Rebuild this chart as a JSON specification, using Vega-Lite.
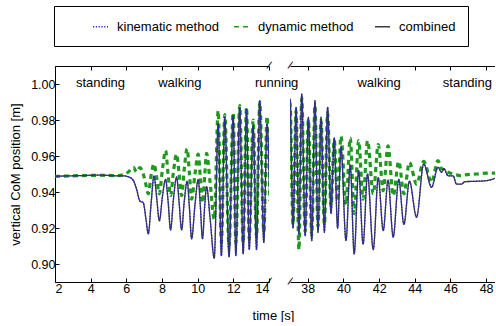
{
  "$schema": "https://vega.github.io/schema/vega-lite/v6.json",
  "padding": {"left": 9, "top": 5, "right": 0, "bottom": 0},
  "config": {
    "view": {"stroke": null},
    "font": "Liberation Sans",
    "axis": {"labelFont": "Liberation Sans", "titleFont": "Liberation Sans", "labelFontSize": 12.5, "titleFontSize": 13, "titleFontWeight": "normal", "labelColor": "#000", "titleColor": "#000", "domainColor": "#000", "tickColor": "#000", "grid": false, "tickSize": -4, "labelPadding": 8},
    "text": {"font": "Liberation Sans", "fontSize": 13, "color": "#000"}
  },
  "datasets": {
    "left": [
      {"t": 2.0, "kinematic method": 0.9487, "dynamic method": 0.9487, "combined": 0.9487},
      {"t": 2.5, "kinematic method": 0.9489, "dynamic method": 0.9488, "combined": 0.9489},
      {"t": 3.0, "kinematic method": 0.9490, "dynamic method": 0.9490, "combined": 0.9490},
      {"t": 3.5, "kinematic method": 0.9491, "dynamic method": 0.9491, "combined": 0.9491},
      {"t": 4.0, "kinematic method": 0.9493, "dynamic method": 0.9492, "combined": 0.9493},
      {"t": 4.5, "kinematic method": 0.9494, "dynamic method": 0.9493, "combined": 0.9494},
      {"t": 5.0, "kinematic method": 0.9492, "dynamic method": 0.9492, "combined": 0.9492},
      {"t": 5.5, "kinematic method": 0.9490, "dynamic method": 0.9491, "combined": 0.9490},
      {"t": 5.8, "kinematic method": 0.9490, "dynamic method": 0.9496, "combined": 0.9490},
      {"t": 6.1, "kinematic method": 0.9485, "dynamic method": 0.9510, "combined": 0.9485},
      {"t": 6.4, "kinematic method": 0.9463, "dynamic method": 0.9537, "combined": 0.9463},
      {"t": 6.57, "kinematic method": 0.9417, "dynamic method": 0.9512, "combined": 0.9417},
      {"t": 6.76, "kinematic method": 0.9350, "dynamic method": 0.9535, "combined": 0.9350},
      {"t": 6.95, "kinematic method": 0.9340, "dynamic method": 0.9500, "combined": 0.9340},
      {"t": 7.10, "kinematic method": 0.9250, "dynamic method": 0.9440, "combined": 0.9250},
      {"t": 7.23, "kinematic method": 0.9167, "dynamic method": 0.9390, "combined": 0.9167},
      {"t": 7.40, "kinematic method": 0.9350, "dynamic method": 0.9500, "combined": 0.9350},
      {"t": 7.55, "kinematic method": 0.9490, "dynamic method": 0.9556, "combined": 0.9490},
      {"t": 7.70, "kinematic method": 0.9370, "dynamic method": 0.9480, "combined": 0.9370},
      {"t": 7.85, "kinematic method": 0.9240, "dynamic method": 0.9390, "combined": 0.9240},
      {"t": 8.03, "kinematic method": 0.9380, "dynamic method": 0.9530, "combined": 0.9380},
      {"t": 8.20, "kinematic method": 0.9470, "dynamic method": 0.9630, "combined": 0.9470},
      {"t": 8.34, "kinematic method": 0.9350, "dynamic method": 0.9500, "combined": 0.9350},
      {"t": 8.48, "kinematic method": 0.9190, "dynamic method": 0.9380, "combined": 0.9190},
      {"t": 8.65, "kinematic method": 0.9370, "dynamic method": 0.9520, "combined": 0.9370},
      {"t": 8.82, "kinematic method": 0.9483, "dynamic method": 0.9610, "combined": 0.9483},
      {"t": 8.96, "kinematic method": 0.9340, "dynamic method": 0.9500, "combined": 0.9340},
      {"t": 9.10, "kinematic method": 0.9190, "dynamic method": 0.9380, "combined": 0.9190},
      {"t": 9.25, "kinematic method": 0.9350, "dynamic method": 0.9530, "combined": 0.9350},
      {"t": 9.41, "kinematic method": 0.9460, "dynamic method": 0.9640, "combined": 0.9460},
      {"t": 9.54, "kinematic method": 0.9310, "dynamic method": 0.9500, "combined": 0.9310},
      {"t": 9.66, "kinematic method": 0.9140, "dynamic method": 0.9360, "combined": 0.9140},
      {"t": 9.85, "kinematic method": 0.9330, "dynamic method": 0.9500, "combined": 0.9330},
      {"t": 10.03, "kinematic method": 0.9470, "dynamic method": 0.9610, "combined": 0.9470},
      {"t": 10.15, "kinematic method": 0.9320, "dynamic method": 0.9480, "combined": 0.9320},
      {"t": 10.27, "kinematic method": 0.9140, "dynamic method": 0.9340, "combined": 0.9140},
      {"t": 10.40, "kinematic method": 0.9330, "dynamic method": 0.9500, "combined": 0.9330},
      {"t": 10.50, "kinematic method": 0.9430, "dynamic method": 0.9615, "combined": 0.9430},
      {"t": 10.70, "kinematic method": 0.9250, "dynamic method": 0.9450, "combined": 0.9250},
      {"t": 10.93, "kinematic method": 0.9033, "dynamic method": 0.9250, "combined": 0.9033},
      {"t": 11.15, "kinematic method": 0.9780, "dynamic method": 0.9850, "combined": 0.9780},
      {"t": 11.33, "kinematic method": 0.9046, "dynamic method": 0.9120, "combined": 0.9046},
      {"t": 11.52, "kinematic method": 0.9815, "dynamic method": 0.9830, "combined": 0.9815},
      {"t": 11.76, "kinematic method": 0.9040, "dynamic method": 0.9100, "combined": 0.9040},
      {"t": 11.99, "kinematic method": 0.9824, "dynamic method": 0.9840, "combined": 0.9824},
      {"t": 12.14, "kinematic method": 0.9046, "dynamic method": 0.9120, "combined": 0.9046},
      {"t": 12.36, "kinematic method": 0.9870, "dynamic method": 0.9880, "combined": 0.9870},
      {"t": 12.55, "kinematic method": 0.9056, "dynamic method": 0.9120, "combined": 0.9056},
      {"t": 12.74, "kinematic method": 0.9860, "dynamic method": 0.9870, "combined": 0.9860},
      {"t": 12.89, "kinematic method": 0.9080, "dynamic method": 0.9140, "combined": 0.9080},
      {"t": 13.11, "kinematic method": 0.9770, "dynamic method": 0.9800, "combined": 0.9770},
      {"t": 13.30, "kinematic method": 0.9080, "dynamic method": 0.9150, "combined": 0.9080},
      {"t": 13.48, "kinematic method": 0.9907, "dynamic method": 0.9900, "combined": 0.9907},
      {"t": 13.71, "kinematic method": 0.9120, "dynamic method": 0.9180, "combined": 0.9120},
      {"t": 13.89, "kinematic method": 0.9780, "dynamic method": 0.9820, "combined": 0.9780},
      {"t": 14.05, "kinematic method": 0.9300, "dynamic method": 0.9350, "combined": 0.9300}
    ],
    "right": [
      {"t": 36.90, "kinematic method": 0.9300, "dynamic method": 0.9300, "combined": 0.9300},
      {"t": 37.00, "kinematic method": 0.9917, "dynamic method": 0.9900, "combined": 0.9917},
      {"t": 37.17, "kinematic method": 0.9200, "dynamic method": 0.9220, "combined": 0.9200},
      {"t": 37.34, "kinematic method": 0.9870, "dynamic method": 0.9850, "combined": 0.9870},
      {"t": 37.50, "kinematic method": 0.9167, "dynamic method": 0.9080, "combined": 0.9167},
      {"t": 37.66, "kinematic method": 0.9944, "dynamic method": 0.9920, "combined": 0.9944},
      {"t": 37.85, "kinematic method": 0.9157, "dynamic method": 0.9180, "combined": 0.9157},
      {"t": 38.03, "kinematic method": 0.9815, "dynamic method": 0.9800, "combined": 0.9815},
      {"t": 38.22, "kinematic method": 0.9130, "dynamic method": 0.9160, "combined": 0.9130},
      {"t": 38.40, "kinematic method": 0.9907, "dynamic method": 0.9880, "combined": 0.9907},
      {"t": 38.57, "kinematic method": 0.9176, "dynamic method": 0.9210, "combined": 0.9176},
      {"t": 38.74, "kinematic method": 0.9815, "dynamic method": 0.9800, "combined": 0.9815},
      {"t": 38.93, "kinematic method": 0.9176, "dynamic method": 0.9220, "combined": 0.9176},
      {"t": 39.11, "kinematic method": 0.9870, "dynamic method": 0.9840, "combined": 0.9870},
      {"t": 39.30, "kinematic method": 0.9280, "dynamic method": 0.9320, "combined": 0.9280},
      {"t": 39.48, "kinematic method": 0.9700, "dynamic method": 0.9690, "combined": 0.9700},
      {"t": 39.67, "kinematic method": 0.9200, "dynamic method": 0.9350, "combined": 0.9200},
      {"t": 39.86, "kinematic method": 0.9650, "dynamic method": 0.9710, "combined": 0.9650},
      {"t": 40.14, "kinematic method": 0.9130, "dynamic method": 0.9330, "combined": 0.9130},
      {"t": 40.38, "kinematic method": 0.9550, "dynamic method": 0.9700, "combined": 0.9550},
      {"t": 40.60, "kinematic method": 0.9056, "dynamic method": 0.9280, "combined": 0.9056},
      {"t": 40.85, "kinematic method": 0.9520, "dynamic method": 0.9685, "combined": 0.9520},
      {"t": 41.10, "kinematic method": 0.9110, "dynamic method": 0.9360, "combined": 0.9110},
      {"t": 41.35, "kinematic method": 0.9500, "dynamic method": 0.9685, "combined": 0.9500},
      {"t": 41.67, "kinematic method": 0.9080, "dynamic method": 0.9390, "combined": 0.9080},
      {"t": 41.95, "kinematic method": 0.9480, "dynamic method": 0.9663, "combined": 0.9480},
      {"t": 42.23, "kinematic method": 0.9185, "dynamic method": 0.9407, "combined": 0.9185},
      {"t": 42.50, "kinematic method": 0.9465, "dynamic method": 0.9657, "combined": 0.9465},
      {"t": 42.79, "kinematic method": 0.9150, "dynamic method": 0.9380, "combined": 0.9150},
      {"t": 43.10, "kinematic method": 0.9470, "dynamic method": 0.9570, "combined": 0.9470},
      {"t": 43.39, "kinematic method": 0.9220, "dynamic method": 0.9390, "combined": 0.9220},
      {"t": 43.70, "kinematic method": 0.9460, "dynamic method": 0.9565, "combined": 0.9460},
      {"t": 44.10, "kinematic method": 0.9260, "dynamic method": 0.9444, "combined": 0.9260},
      {"t": 44.50, "kinematic method": 0.9556, "dynamic method": 0.9570, "combined": 0.9556},
      {"t": 44.94, "kinematic method": 0.9426, "dynamic method": 0.9454, "combined": 0.9426},
      {"t": 45.30, "kinematic method": 0.9537, "dynamic method": 0.9574, "combined": 0.9537},
      {"t": 45.50, "kinematic method": 0.9510, "dynamic method": 0.9530, "combined": 0.9510},
      {"t": 45.63, "kinematic method": 0.9530, "dynamic method": 0.9525, "combined": 0.9530},
      {"t": 45.87, "kinematic method": 0.9490, "dynamic method": 0.9510, "combined": 0.9490},
      {"t": 46.15, "kinematic method": 0.9490, "dynamic method": 0.9500, "combined": 0.9490},
      {"t": 46.34, "kinematic method": 0.9444, "dynamic method": 0.9495, "combined": 0.9444},
      {"t": 46.62, "kinematic method": 0.9444, "dynamic method": 0.9490, "combined": 0.9444},
      {"t": 46.80, "kinematic method": 0.9457, "dynamic method": 0.9495, "combined": 0.9457},
      {"t": 47.50, "kinematic method": 0.9460, "dynamic method": 0.9500, "combined": 0.9460},
      {"t": 48.02, "kinematic method": 0.9463, "dynamic method": 0.9505, "combined": 0.9463},
      {"t": 48.60, "kinematic method": 0.9480, "dynamic method": 0.9505, "combined": 0.9480}
    ],
    "leftLabels": [
      {"t": 4.55, "v": 0.9983, "label": "standing"},
      {"t": 9.0, "v": 0.9983, "label": "walking"},
      {"t": 14.43, "v": 0.9983, "label": "running"}
    ],
    "rightLabels": [
      {"t": 42.0, "v": 0.9983, "label": "walking"},
      {"t": 46.95, "v": 0.9983, "label": "standing"}
    ],
    "leftBreak": [{"t": 14, "v": 0.89}, {"t": 14, "v": 1.01}],
    "rightBreak": [{"t": 37, "v": 0.89}, {"t": 37, "v": 1.01}]
  },
  "bounds": "flush",
  "spacing": 21,
  "resolve": {"scale": {"x": "independent", "y": "independent", "color": "shared", "strokeDash": "shared"}, "axis": {"y": "independent"}},
  "hconcat": [
    {
      "width": 214,
      "height": 216,
      "resolve": {"axis": {"x": "independent"}},
      "layer": [
        {
          "data": {"name": "left"},
          "transform": [{"fold": ["kinematic method", "dynamic method", "combined"], "as": ["series", "v"]}, {"filter": "datum.series === 'dynamic method'"}],
          "mark": {"type": "line", "interpolate": "monotone", "strokeWidth": 3.2, "clip": true},
          "encoding": {
            "x": {"field": "t", "type": "quantitative", "scale": {"domain": [2, 14], "nice": false, "zero": false}, "axis": {"orient": "bottom", "values": [2, 4, 6, 8, 10, 12, 14], "title": "time [s]", "titleX": 218, "titleY": 27, "titleBaseline": "top", "labelPadding": 4}},
            "y": {"field": "v", "type": "quantitative", "scale": {"domain": [0.89, 1.01], "nice": false, "zero": false}, "axis": {"orient": "left", "values": [0.9, 0.92, 0.94, 0.96, 0.98, 1.0], "format": ".2f", "title": "vertical CoM position [m]", "titlePadding": 8, "labelPadding": 4}},
            "color": {"field": "series", "type": "nominal", "scale": {"domain": ["kinematic method", "dynamic method", "combined"], "range": ["#2424d0", "#1e9a1e", "#3c3c3c"]}, "legend": {"title": " ", "orient": "none", "legendX": -1, "legendY": -60, "direction": "horizontal", "columns": 3, "gridAlign": "all", "symbolType": "stroke", "symbolSize": 225, "labelOffset": 8, "labelFont": "Liberation Sans", "labelFontSize": 13, "labelColor": "#000", "columnPadding": 12, "padding": 12, "strokeColor": "#000", "fillColor": "#fff", "titleOrient": "left", "titlePadding": 26, "symbolStrokeWidth": 1.3, "labelExpr": "datum.label === 'combined' ? 'combined\u00a0\u00a0\u00a0\u00a0\u00a0\u00a0\u00a0\u00a0\u00a0' : datum.label"}},
            "strokeDash": {"field": "series", "type": "nominal", "scale": {"domain": ["kinematic method", "dynamic method", "combined"], "range": [[1.2, 1.6], [5, 4], [1, 0]]}, "legend": {"title": " ", "orient": "none", "legendX": -1, "legendY": -60, "direction": "horizontal", "columns": 3, "gridAlign": "all", "symbolType": "stroke", "symbolSize": 225, "labelOffset": 8, "labelFont": "Liberation Sans", "labelFontSize": 13, "labelColor": "#000", "columnPadding": 12, "padding": 12, "strokeColor": "#000", "fillColor": "#fff", "titleOrient": "left", "titlePadding": 26, "symbolStrokeWidth": 1.3, "labelExpr": "datum.label === 'combined' ? 'combined\u00a0\u00a0\u00a0\u00a0\u00a0\u00a0\u00a0\u00a0\u00a0' : datum.label"}}
          }
        },
        {
          "data": {"name": "left"},
          "transform": [{"fold": ["kinematic method", "dynamic method", "combined"], "as": ["series", "v"]}, {"filter": "datum.series === 'combined'"}],
          "mark": {"type": "line", "interpolate": "monotone", "strokeWidth": 1.3, "clip": true},
          "encoding": {
            "x": {"field": "t", "type": "quantitative", "axis": null},
            "y": {"field": "v", "type": "quantitative"},
            "color": {"field": "series", "type": "nominal"},
            "strokeDash": {"field": "series", "type": "nominal"}
          }
        },
        {
          "data": {"name": "left"},
          "transform": [{"fold": ["kinematic method", "dynamic method", "combined"], "as": ["series", "v"]}, {"filter": "datum.series === 'kinematic method'"}],
          "mark": {"type": "line", "interpolate": "monotone", "strokeWidth": 1.4, "clip": true},
          "encoding": {
            "x": {"field": "t", "type": "quantitative", "axis": null},
            "y": {"field": "v", "type": "quantitative"},
            "color": {"field": "series", "type": "nominal"},
            "strokeDash": {"field": "series", "type": "nominal"}
          }
        },
        {
          "data": {"name": "leftLabels"},
          "mark": {"type": "text", "baseline": "alphabetic", "align": "center"},
          "encoding": {
            "x": {"field": "t", "type": "quantitative", "axis": {"orient": "top", "values": [2, 4, 6, 8, 10, 12, 14], "labels": false, "title": null}},
            "y": {"field": "v", "type": "quantitative"},
            "text": {"field": "label"}
          }
        },
        {
          "data": {"name": "leftBreak"},
          "mark": {"type": "text", "text": "/", "fontSize": 11, "angle": 20, "baseline": "middle", "align": "center"},
          "encoding": {
            "x": {"field": "t", "type": "quantitative", "axis": null},
            "y": {"field": "v", "type": "quantitative"}
          }
        }
      ]
    },
    {
      "width": 205,
      "height": 216,
      "resolve": {"axis": {"x": "independent"}},
      "layer": [
        {
          "data": {"name": "right"},
          "transform": [{"fold": ["kinematic method", "dynamic method", "combined"], "as": ["series", "v"]}, {"filter": "datum.series === 'dynamic method'"}],
          "mark": {"type": "line", "interpolate": "monotone", "strokeWidth": 3.2, "clip": true},
          "encoding": {
            "x": {"field": "t", "type": "quantitative", "scale": {"domain": [37, 48.5], "nice": false, "zero": false}, "axis": {"orient": "bottom", "values": [38, 40, 42, 44, 46, 48], "title": null, "labelPadding": 4}},
            "y": {"field": "v", "type": "quantitative", "scale": {"domain": [0.89, 1.01], "nice": false, "zero": false}, "axis": null},
            "color": {"field": "series", "type": "nominal"},
            "strokeDash": {"field": "series", "type": "nominal"}
          }
        },
        {
          "data": {"name": "right"},
          "transform": [{"fold": ["kinematic method", "dynamic method", "combined"], "as": ["series", "v"]}, {"filter": "datum.series === 'combined'"}],
          "mark": {"type": "line", "interpolate": "monotone", "strokeWidth": 1.3, "clip": true},
          "encoding": {
            "x": {"field": "t", "type": "quantitative", "axis": null},
            "y": {"field": "v", "type": "quantitative", "axis": null},
            "color": {"field": "series", "type": "nominal"},
            "strokeDash": {"field": "series", "type": "nominal"}
          }
        },
        {
          "data": {"name": "right"},
          "transform": [{"fold": ["kinematic method", "dynamic method", "combined"], "as": ["series", "v"]}, {"filter": "datum.series === 'kinematic method'"}],
          "mark": {"type": "line", "interpolate": "monotone", "strokeWidth": 1.4, "clip": true},
          "encoding": {
            "x": {"field": "t", "type": "quantitative", "axis": null},
            "y": {"field": "v", "type": "quantitative", "axis": null},
            "color": {"field": "series", "type": "nominal"},
            "strokeDash": {"field": "series", "type": "nominal"}
          }
        },
        {
          "data": {"name": "rightLabels"},
          "mark": {"type": "text", "baseline": "alphabetic", "align": "center"},
          "encoding": {
            "x": {"field": "t", "type": "quantitative", "axis": {"orient": "top", "values": [38, 40, 42, 44, 46, 48], "labels": false, "title": null}},
            "y": {"field": "v", "type": "quantitative", "axis": null},
            "text": {"field": "label"}
          }
        },
        {
          "data": {"name": "rightBreak"},
          "mark": {"type": "text", "text": "/", "fontSize": 11, "angle": 20, "baseline": "middle", "align": "center"},
          "encoding": {
            "x": {"field": "t", "type": "quantitative", "axis": null},
            "y": {"field": "v", "type": "quantitative", "axis": null}
          }
        }
      ]
    }
  ]
}
